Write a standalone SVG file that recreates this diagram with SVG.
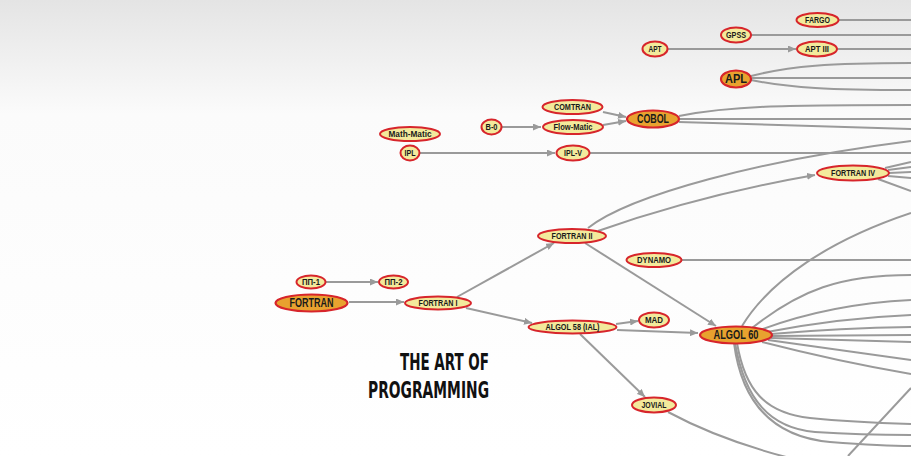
<svg xmlns="http://www.w3.org/2000/svg" width="911" height="456" viewBox="0 0 911 456">
<defs>
<linearGradient id="bg" x1="0" y1="0" x2="0" y2="1">
<stop offset="0" stop-color="#e4e4e4"/>
<stop offset="0.25" stop-color="#fbfbfb"/>
<stop offset="1" stop-color="#ffffff"/>
</linearGradient>
<marker id="ah" markerUnits="userSpaceOnUse" markerWidth="8" markerHeight="7" refX="8" refY="3.5" orient="auto">
<path d="M0,0 L8,3.5 L0,7 z" fill="#9a9a9a"/>
</marker>
<style>
.c path{fill:none;stroke:#9a9a9a;stroke-width:2}
.c .a{marker-end:url(#ah)}
.n ellipse{fill:#f3ea9c;stroke:#d7252b;stroke-width:2}
.m ellipse{fill:#e8a22f;stroke:#d7252b;stroke-width:2.2}
.n text,.m text{font-family:"Liberation Sans",Arial,sans-serif;font-weight:bold;fill:#1a1a1a;text-anchor:middle}
.n text{font-size:8.5px}
.m text{font-size:12px}
.t{font-family:"DejaVu Sans Condensed","Liberation Sans",sans-serif;font-weight:bold;font-size:23px;fill:#111;text-anchor:end}
</style>
</defs>
<rect width="911" height="456" fill="url(#bg)"/>
<g id="connectors" class="c">
<path d="M839,20 L911,20"/>
<path d="M751,35 L911,35"/>
<path class="a" d="M668,49 L796,49"/>
<path d="M837,49 L911,49"/>
<path d="M751,76 C790,66 830,63 911,63"/>
<path d="M752,78 L911,78"/>
<path d="M751,80 C790,88 830,90 911,90"/>
<path class="a" d="M603,112 L626,117"/>
<path class="a" d="M603,125 L626,121"/>
<path class="a" d="M502,127 L541,127"/>
<path d="M679,116 C730,106 780,105 911,105"/>
<path d="M680,119 L911,119"/>
<path d="M679,122 C740,124 820,126 911,129"/>
<path class="a" d="M420,153 L555,153"/>
<path d="M590,153 L911,153"/>
<path d="M588,228 C630,195 760,160 911,141"/>
<path class="a" d="M598,231 Q700,195 815,175"/>
<path d="M885,168 L911,162"/>
<path d="M888,170 L911,167"/>
<path d="M889,173 L911,172"/>
<path d="M888,176 L911,178"/>
<path d="M878,179 L911,191"/>
<path d="M682,260 L911,260"/>
<path class="a" d="M326,282 L378,282"/>
<path class="a" d="M349,302 L404,302"/>
<path class="a" d="M457,297 L554,243"/>
<path class="a" d="M466,308 L532,323"/>
<path class="a" d="M585,243 L716,326"/>
<path class="a" d="M616,324 L638,321"/>
<path class="a" d="M617,330 L698,333"/>
<path class="a" d="M580,334 L645,397"/>
<path d="M742,326 C770,280 830,240 911,213"/>
<path d="M752,328 C800,290 840,275 911,275"/>
<path d="M760,330 C800,315 850,303 911,300"/>
<path d="M767,332 Q840,318 911,315"/>
<path d="M771,334 Q840,328 911,327"/>
<path d="M772,336 L911,335"/>
<path d="M771,338 Q840,340 911,342"/>
<path d="M768,340 Q840,350 911,360"/>
<path d="M762,342 Q840,362 911,374"/>
<path d="M737,343 C745,390 765,413 810,418 C850,422 880,423 911,424"/>
<path d="M735,343 C745,400 770,428 815,432 C860,435 890,435 911,435"/>
<path d="M734,343 C742,405 775,437 830,442 C870,445 895,446 911,446"/>
<path d="M911,388 L848,456"/>
<path d="M668,412 Q720,440 790,458"/>
</g>
<g id="fargo" class="n"><ellipse cx="817.5" cy="20" rx="21" ry="7"/><text x="817.5" y="23" textLength="25" lengthAdjust="spacingAndGlyphs">FARGO</text></g>
<g id="gpss" class="n"><ellipse cx="736" cy="35" rx="15" ry="7.5"/><text x="736" y="38" textLength="20" lengthAdjust="spacingAndGlyphs">GPSS</text></g>
<g id="apt" class="n"><ellipse cx="655" cy="49" rx="12.5" ry="7.5"/><text x="655" y="52" textLength="13" lengthAdjust="spacingAndGlyphs">APT</text></g>
<g id="apt3" class="n"><ellipse cx="817" cy="49" rx="20" ry="7.5"/><text x="817" y="52" textLength="24" lengthAdjust="spacingAndGlyphs">APT III</text></g>
<g id="apl" class="m"><ellipse cx="736" cy="79" rx="15" ry="8.5"/><text x="736" y="83.3" textLength="22" lengthAdjust="spacingAndGlyphs">APL</text></g>
<g id="comtran" class="n"><ellipse cx="572.5" cy="107" rx="30" ry="7"/><text x="572.5" y="110" textLength="37" lengthAdjust="spacingAndGlyphs">COMTRAN</text></g>
<g id="flowmatic" class="n"><ellipse cx="573" cy="127" rx="30" ry="7"/><text x="573" y="130" textLength="39" lengthAdjust="spacingAndGlyphs">Flow-Matic</text></g>
<g id="b0" class="n"><ellipse cx="491.5" cy="127" rx="10" ry="7.5"/><text x="491.5" y="130" textLength="12" lengthAdjust="spacingAndGlyphs">B-0</text></g>
<g id="cobol" class="m"><ellipse cx="653" cy="119" rx="26" ry="8.5"/><text x="653" y="123.3" textLength="32" lengthAdjust="spacingAndGlyphs">COBOL</text></g>
<g id="mathmatic" class="n"><ellipse cx="410" cy="134" rx="30" ry="7"/><text x="410" y="137" textLength="43" lengthAdjust="spacingAndGlyphs">Math-Matic</text></g>
<g id="ipl" class="n"><ellipse cx="410" cy="153" rx="9.5" ry="7.5"/><text x="410" y="156" textLength="11" lengthAdjust="spacingAndGlyphs">IPL</text></g>
<g id="iplv" class="n"><ellipse cx="573" cy="153" rx="16.5" ry="7.5"/><text x="573" y="156" textLength="18" lengthAdjust="spacingAndGlyphs">IPL-V</text></g>
<g id="fortran4" class="n"><ellipse cx="853" cy="173" rx="36" ry="7.5"/><text x="853" y="176" textLength="44" lengthAdjust="spacingAndGlyphs">FORTRAN IV</text></g>
<g id="fortran2" class="n"><ellipse cx="572" cy="236" rx="34" ry="7"/><text x="572" y="239" textLength="41" lengthAdjust="spacingAndGlyphs">FORTRAN II</text></g>
<g id="dynamo" class="n"><ellipse cx="654" cy="260" rx="27.5" ry="7"/><text x="654" y="263" textLength="34" lengthAdjust="spacingAndGlyphs">DYNAMO</text></g>
<g id="pp1" class="n"><ellipse cx="311" cy="282" rx="14.5" ry="6.5"/><text x="311" y="285" textLength="18" lengthAdjust="spacingAndGlyphs">ПП-1</text></g>
<g id="pp2" class="n"><ellipse cx="393.5" cy="282" rx="14.5" ry="6.5"/><text x="393.5" y="285" textLength="18" lengthAdjust="spacingAndGlyphs">ПП-2</text></g>
<g id="fortran" class="m"><ellipse cx="311.5" cy="303" rx="36" ry="8.5"/><text x="311.5" y="307.3" textLength="44" lengthAdjust="spacingAndGlyphs">FORTRAN</text></g>
<g id="fortran1" class="n"><ellipse cx="438" cy="303" rx="33" ry="6.5"/><text x="438" y="306" textLength="39" lengthAdjust="spacingAndGlyphs">FORTRAN I</text></g>
<g id="algol58" class="n"><ellipse cx="572.5" cy="327" rx="44" ry="6.5"/><text x="572.5" y="330" textLength="54" lengthAdjust="spacingAndGlyphs">ALGOL 58 (IAL)</text></g>
<g id="mad" class="n"><ellipse cx="654" cy="320" rx="15" ry="7.5"/><text x="654" y="323" textLength="18" lengthAdjust="spacingAndGlyphs">MAD</text></g>
<g id="algol60" class="m"><ellipse cx="736" cy="335" rx="36" ry="8.5"/><text x="736" y="339.3" textLength="45" lengthAdjust="spacingAndGlyphs">ALGOL 60</text></g>
<g id="jovial" class="n"><ellipse cx="654" cy="405" rx="22" ry="7.5"/><text x="654" y="408" textLength="25" lengthAdjust="spacingAndGlyphs">JOVIAL</text></g>
<text class="t" x="489" y="370" textLength="89" lengthAdjust="spacingAndGlyphs">THE ART OF</text>
<text class="t" x="489" y="398" textLength="121" lengthAdjust="spacingAndGlyphs">PROGRAMMING</text>
</svg>
